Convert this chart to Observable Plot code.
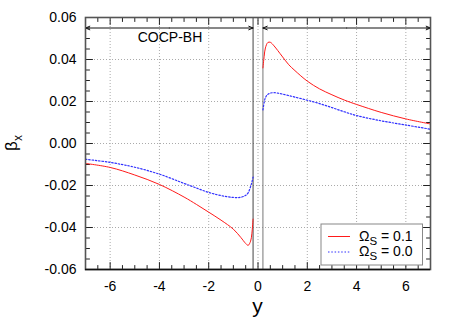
<!DOCTYPE html>
<html><head><meta charset="utf-8">
<script src="https://cdn.jsdelivr.net/npm/d3@7"></script>
<script src="https://cdn.jsdelivr.net/npm/@observablehq/plot@0.6"></script>
<style>
body{margin:0;background:#fff;}
#chart svg{display:block;}
</style>
</head><body><div id="chart"></div>
<script>
// ---- data ----
const yLeft  = [-7, -6, -5, -4, -3, -2.5, -2, -1.5, -1, -0.7, -0.5, -0.4, -0.3, -0.25, -0.2];
const betaLeftOmega01 = [-0.0095, -0.0114, -0.0150, -0.0195, -0.0255, -0.0290, -0.0327, -0.0365, -0.0408, -0.0447, -0.0476, -0.0485, -0.0465, -0.0430, -0.0360];
const betaLeftOmega00 = [-0.0075, -0.0090, -0.0113, -0.0146, -0.0190, -0.0212, -0.0233, -0.0248, -0.0257, -0.0256, -0.0247, -0.0235, -0.0205, -0.0185, -0.0160];
const yRight = [0.2, 0.25, 0.3, 0.4, 0.5, 0.65, 0.8, 1, 1.25, 1.5, 2, 2.5, 3, 3.5, 4, 5, 6, 7];
const betaRightOmega01 = [0.0360, 0.0415, 0.0455, 0.0481, 0.0482, 0.0465, 0.0443, 0.0412, 0.0375, 0.0347, 0.0297, 0.0260, 0.0232, 0.0207, 0.0186, 0.0148, 0.0117, 0.0093];
const betaRightOmega00 = [0.0160, 0.0195, 0.0218, 0.0234, 0.0240, 0.0242, 0.0240, 0.0235, 0.0228, 0.0221, 0.0206, 0.0190, 0.0171, 0.0151, 0.0133, 0.0108, 0.0088, 0.0068];

const seriesKeys = ["0.1", "0.0"];
const xTickValues = [-6, -4, -2, 0, 2, 4, 6];
const xTickLabels = ["-6", "-4", "-2", "0", "2", "4", "6"];
const yTickValues = [-0.06, -0.04, -0.02, 0, 0.02, 0.04, 0.06];
const yTickLabels = ["-0.06", "-0.04", "-0.02", "0.00", "0.02", "0.04", "0.06"];
const xDomain = [-7, 7];
const yDomain = [-0.06, 0.06];
const excisionBounds = [-0.2, 0.2];
const regionLabel = "COCP-BH";
const regionLabelPos = {x: -3.57, y: 0.0505};
const arrowLevel = 0.055;
const arrowSpans = [
  {x1: -3.6, x2: -7}, {x1: -3.6, x2: -0.2},
  {x1: 3.6, x2: 0.2}, {x1: 3.6, x2: 7}
];
const xLabel = "y";

// ---- build rows ----
function rows(xs, vals, series, branch) {
  return xs.map((x, i) => ({y: x, beta: vals[i], series, branch}));
}
const red = [...rows(yLeft, betaLeftOmega01, seriesKeys[0], "L"), ...rows(yRight, betaRightOmega01, seriesKeys[0], "R")];
const blue = [...rows(yLeft, betaLeftOmega00, seriesKeys[1], "L"), ...rows(yRight, betaRightOmega00, seriesKeys[1], "R")];

const xMinor = d3.range(-7, 7.001, 0.5).filter(v => !xTickValues.includes(v));
const yMinor = d3.range(-0.06, 0.0601, 0.005).map(v => +v.toFixed(3)).filter(v => !yTickValues.some(t => Math.abs(t - v) < 1e-9));
const tickShape = {draw(ctx, l) { ctx.moveTo(0, 0); ctx.lineTo(0, -l); }};

function ticksX(vals, len) {
  return [
    Plot.vector(vals, {x: d => d, y: () => yDomain[0], length: len, rotate: 0, anchor: "start", shape: tickShape, stroke: "#222", strokeWidth: 1}),
    Plot.vector(vals, {x: d => d, y: () => yDomain[1], length: len, rotate: 180, anchor: "start", shape: tickShape, stroke: "#222", strokeWidth: 1})
  ];
}
function ticksY(vals, len) {
  return [
    Plot.vector(vals, {y: d => d, x: () => xDomain[0], length: len, rotate: 90, anchor: "start", shape: tickShape, stroke: "#222", strokeWidth: 1}),
    Plot.vector(vals, {y: d => d, x: () => xDomain[1], length: len, rotate: -90, anchor: "start", shape: tickShape, stroke: "#222", strokeWidth: 1})
  ];
}

const font = "'Liberation Sans', Arial, Helvetica, sans-serif";

const chart = Plot.plot({
  width: 456,
  height: 327,
  marginLeft: 85,
  marginRight: 26,
  marginTop: 17,
  marginBottom: 58,
  style: {fontFamily: font, fontSize: "14px", color: "#000", background: "#fff"},
  x: {domain: xDomain},
  y: {domain: yDomain},
  marks: [
    Plot.gridX(xTickValues, {stroke: "#aaa", strokeOpacity: 1, strokeDasharray: "1,2", strokeWidth: 1}),
    Plot.gridY(yTickValues.slice(1, -1), {stroke: "#aaa", strokeOpacity: 1, strokeDasharray: "1,2", strokeWidth: 1}),
    Plot.ruleX([excisionBounds[0]], {stroke: "#444", strokeWidth: 1}),
    Plot.ruleX([excisionBounds[1]], {stroke: "#777", strokeWidth: 1}),
    ...ticksX(xTickValues, 7),
    ...ticksX(xMinor, 4),
    ...ticksY(yTickValues, 7),
    ...ticksY(yMinor, 4),
    Plot.line(blue, {x: "y", y: "beta", z: "branch", stroke: "#3030ff", strokeWidth: 1.2, strokeDasharray: "1.5,1.8", curve: "catmull-rom"}),
    Plot.line(red, {x: "y", y: "beta", z: "branch", stroke: "#ff1a1a", strokeWidth: 1, curve: "catmull-rom"}),
    Plot.arrow(arrowSpans, {x1: "x1", x2: "x2", y1: () => arrowLevel, y2: () => arrowLevel, stroke: "#111", strokeWidth: 1, headLength: 7, headAngle: 45}),
    Plot.text([regionLabel], {x: () => regionLabelPos.x, y: () => regionLabelPos.y, text: d => d, fontSize: 14, fill: "#000"}),
    Plot.axisX(xTickValues, {tickSize: 0, tickPadding: 12, tickFormat: d => xTickLabels[xTickValues.indexOf(d)], fontSize: 14, label: null}),
    Plot.axisY(yTickValues, {tickSize: 0, tickPadding: 9, tickFormat: d => yTickLabels[yTickValues.indexOf(d)], fontSize: 14, label: null}),
    Plot.frame({stroke: "#555", strokeWidth: 1.6}),
    Plot.ruleY([yDomain[0]], {stroke: "#111", strokeWidth: 1.6})
  ]
});
document.getElementById("chart").appendChild(chart);

// ---- axis titles and legend ----
const svg = d3.select(chart);
const sx = chart.scale("x"), sy = chart.scale("y");
const x0 = sx.apply(xDomain[0]), x1 = sx.apply(xDomain[1]);
const yB = sy.apply(yDomain[0]), yT = sy.apply(yDomain[1]);

// y-axis title: beta_x rotated
const yt = svg.append("text")
  .attr("transform", `translate(17,${(yB + yT) / 2}) rotate(-90)`)
  .attr("text-anchor", "middle")
  .attr("font-family", font)
  .attr("font-size", 17)
  .attr("fill", "#000");
yt.append("tspan").text("β");
yt.append("tspan").attr("font-size", 12).attr("dy", 5).text("x");

// x-axis title
svg.append("text")
  .attr("x", (x0 + x1) / 2)
  .attr("y", yB + 44)
  .attr("text-anchor", "middle")
  .attr("font-family", font)
  .attr("font-size", 21)
  .attr("fill", "#000")
  .text(xLabel);

// legend
const legend = svg.append("g").attr("font-family", font).attr("font-size", 14)
  .attr("fill", "#000").attr("text-anchor", "start");
const lx = x1 - 109, ly = yB - 45;
legend.append("rect").attr("x", lx).attr("y", ly).attr("width", 101.5).attr("height", 41)
  .attr("fill", "#fff").attr("stroke", "#888").attr("stroke-width", 1);
const legendStyles = [
  {stroke: "#ff1a1a", dash: null, w: 1},
  {stroke: "#3030ff", dash: "1.5,1.8", w: 1.2}
];
seriesKeys.forEach((k, i) => {
  const rowY = ly + 12.5 + i * 15.5;
  legend.append("line").attr("x1", lx + 7).attr("x2", lx + 29).attr("y1", rowY).attr("y2", rowY)
    .attr("stroke", legendStyles[i].stroke).attr("stroke-width", legendStyles[i].w)
    .attr("stroke-dasharray", legendStyles[i].dash);
  const t = legend.append("text").attr("x", lx + 38).attr("y", rowY + 4).attr("text-anchor", "start");
  t.append("tspan").text("Ω");
  t.append("tspan").attr("font-size", 11.5).attr("dy", 4).text("S");
  t.append("tspan").attr("dy", -4).text(" = " + k);
});
</script>
</body></html>
